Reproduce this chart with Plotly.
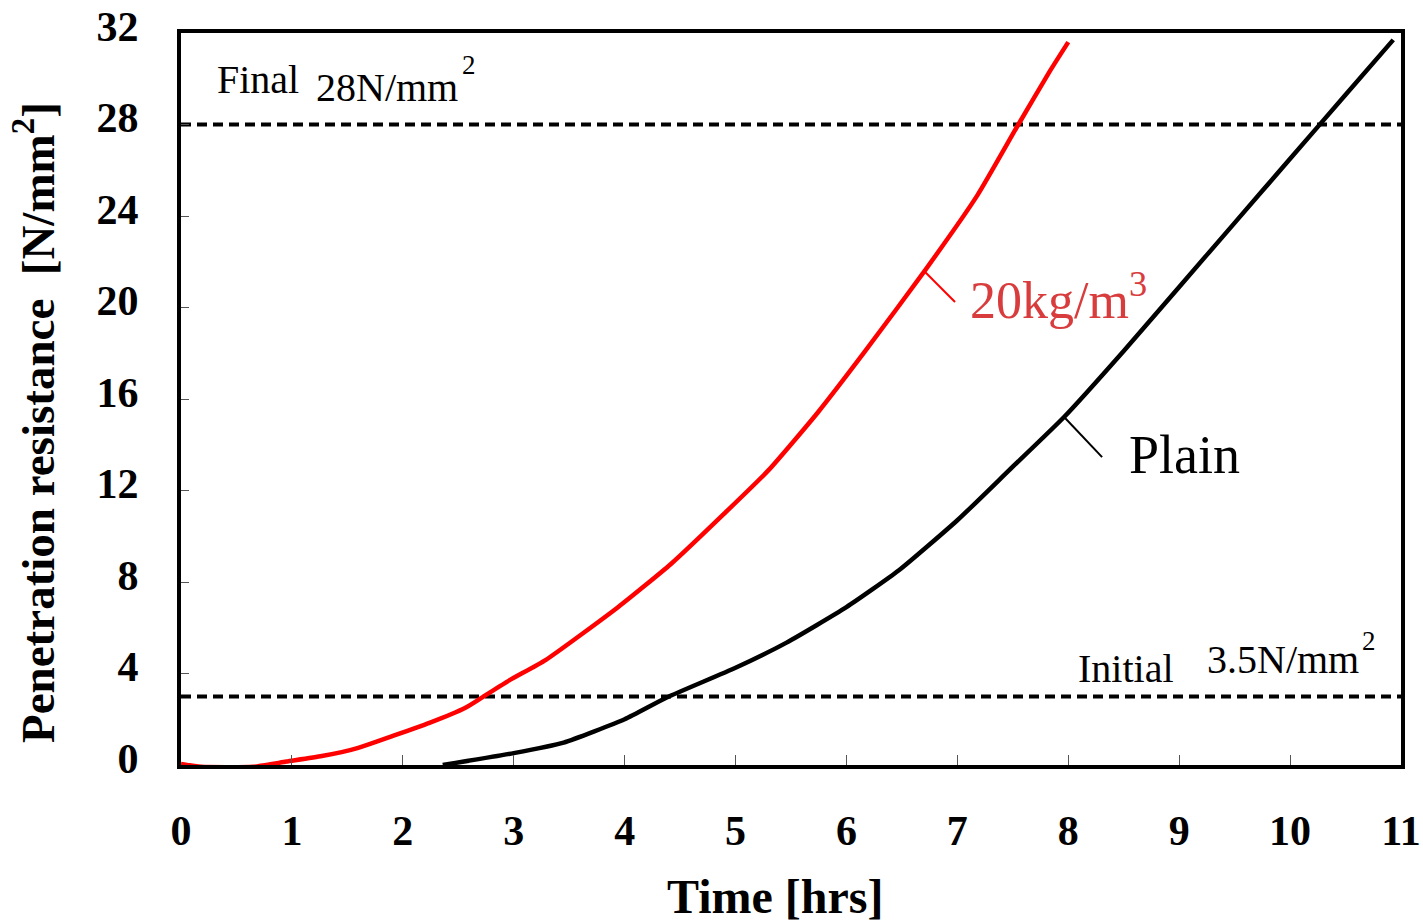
import plotly.graph_objects as go

# ---- data ----
time_fiber = [0.0, 0.18, 0.65, 0.95, 1.27, 1.59, 1.91, 2.24, 2.56, 2.72, 2.96, 3.29, 3.94,
              4.42, 4.90, 5.30, 5.74, 6.17, 6.72, 7.18, 7.55, 7.83, 8.0]
res_fiber = [0.05, -0.08, -0.08, 0.15, 0.39, 0.74, 1.27, 1.84, 2.49, 2.97, 3.7, 4.6, 6.9,
             8.8, 11.0, 12.9, 15.4, 18.1, 21.7, 24.9, 28.0, 30.3, 31.6]

time_plain = [2.36, 3.0, 3.45, 4.0, 4.38, 5.0, 5.46, 6.0, 6.47, 7.0, 7.47, 7.96, 8.5,
              9.0, 9.5, 10.0, 10.5, 10.93]
res_plain = [0.0, 0.52, 0.98, 2.0, 2.95, 4.25, 5.35, 6.9, 8.5, 10.7, 12.9, 15.2, 18.1,
             20.9, 23.7, 26.5, 29.3, 31.7]

final_level = 28.0
initial_level = 3.0

x_ticks = list(range(0, 12))
y_ticks = [0, 4, 8, 12, 16, 20, 24, 28, 32]

FONT = "Liberation Serif"

fig = go.Figure()

# reference dashed lines
for lvl in (final_level, initial_level):
    fig.add_trace(go.Scatter(x=[0, 11], y=[lvl, lvl], mode="lines",
                             line=dict(color="black", width=4, dash="10px,6px"),
                             hoverinfo="skip", showlegend=False))

fig.add_trace(go.Scatter(x=time_plain, y=res_plain, mode="lines", name="Plain",
                         line=dict(color="black", width=4.5, shape="spline", smoothing=0.5),
                         showlegend=False))
fig.add_trace(go.Scatter(x=time_fiber, y=res_fiber, mode="lines", name="20kg/m3",
                         line=dict(color="#ff0000", width=4.5, shape="spline", smoothing=0.5),
                         showlegend=False))

annos = [
    dict(x=0.31, y=29.95, text="Final", font=dict(size=40, color="black", family=FONT)),
    dict(x=1.2, y=29.6, text="28N/mm", font=dict(size=40, color="black", family=FONT)),
    dict(x=2.52, y=30.6, text="2", font=dict(size=27, color="black", family=FONT)),
    dict(x=8.07, y=4.2, text="Initial", font=dict(size=40, color="black", family=FONT)),
    dict(x=9.23, y=4.6, text="3.5N/mm", font=dict(size=40, color="black", family=FONT)),
    dict(x=10.63, y=5.4, text="2", font=dict(size=27, color="black", family=FONT)),
    dict(x=7.097, y=20.5, text="20kg/m<sup>3</sup>",
         font=dict(size=52, color="rgb(217,60,60)", family=FONT)),
    dict(x=8.53, y=13.55, text="Plain", font=dict(size=54, color="black", family=FONT)),
]
for a in annos:
    fig.add_annotation(xref="x", yref="y", showarrow=False, xanchor="left", yanchor="middle", **a)

# leader lines
fig.add_shape(type="line", xref="x", yref="y", x0=6.709, y0=21.55, x1=6.979, y1=20.24,
              line=dict(color="#ff0000", width=2))
fig.add_shape(type="line", xref="x", yref="y", x0=7.971, y0=15.17, x1=8.305, y1=13.46,
              line=dict(color="black", width=2))

# axis titles
fig.add_annotation(xref="paper", yref="paper", x=0.487, y=-0.18, showarrow=False,
                   text="<b>Time [hrs]</b>", xanchor="center", yanchor="middle",
                   font=dict(size=48, color="black", family=FONT))
fig.add_annotation(xref="paper", yref="paper", x=-0.1197, y=0.4686, showarrow=False,
                   text="<b>Penetration resistance  [N/mm<sup>2</sup>]</b>", textangle=-90,
                   xanchor="center", yanchor="middle",
                   font=dict(size=47, color="black", family=FONT))

fig.update_layout(
    width=1423, height=922,
    margin=dict(l=181, r=22, t=33, b=157),
    plot_bgcolor="white", paper_bgcolor="white",
    showlegend=False,
)
fig.update_xaxes(range=[0, 11], tickvals=x_ticks, ticktext=[str(v) for v in x_ticks],
                 showgrid=False, zeroline=False, showline=True, linecolor="black", linewidth=4,
                 mirror=True, ticks="inside", ticklen=10, tickwidth=1, tickcolor="#555",
                 tickfont=dict(size=42, color="black", family=FONT, weight="bold"),
                 ticklabelstandoff=26, automargin=False)
fig.update_yaxes(range=[0, 32], tickvals=y_ticks, ticktext=[str(v) for v in y_ticks],
                 showgrid=False, zeroline=False, showline=True, linecolor="black", linewidth=4,
                 mirror=True, ticks="inside", ticklen=8, tickwidth=1, tickcolor="#555",
                 tickfont=dict(size=42, color="black", family=FONT, weight="bold"),
                 ticklabelstandoff=30, ticklabelshift=-7, automargin=False)

fig.write_html("out.html")
